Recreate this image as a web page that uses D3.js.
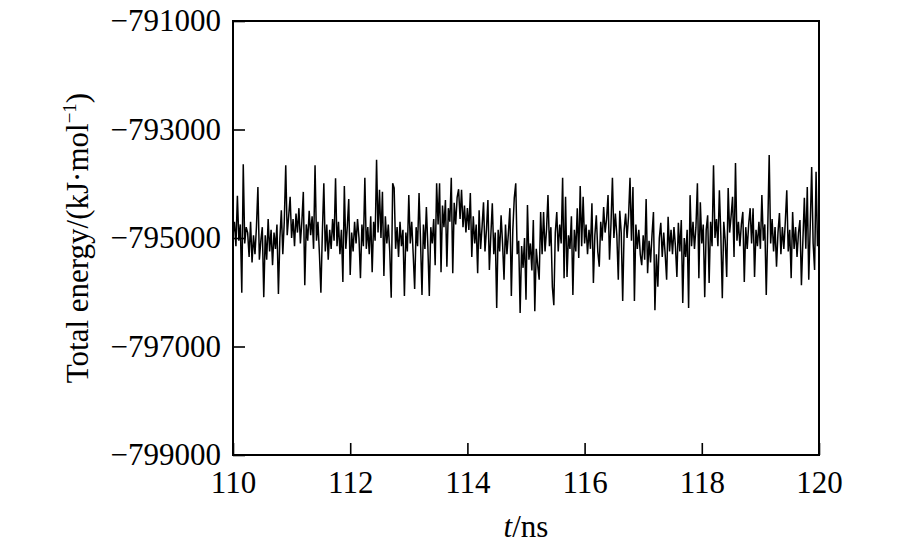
<!DOCTYPE html>
<html>
<head>
<meta charset="utf-8">
<script src="https://cdn.jsdelivr.net/npm/d3@7"></script>
<style>
  html, body { margin: 0; padding: 0; background: #fff; }
  svg { display: block; }
  text { font-family: "Liberation Serif", "Times New Roman", serif; fill: #000; }
</style>
</head>
<body>
<svg id="chart" width="900" height="555"></svg>
<script>
// ---- data ----
const tStart = 110;
const tStep = 0.025; // ns between samples
const energy = [
-794950,-794700,-795150,-794220,-795050,-794750,-796010,-793640,-795100,-794800,
-794900,-795350,-794700,-795450,-794950,-795300,-794800,-794060,-795400,-795050,
-794800,-796090,-794950,-795400,-794650,-795250,-794850,-795500,-794900,-795200,
-794750,-796030,-795000,-794490,-795300,-794700,-793660,-794950,-794600,-794240,
-795000,-794650,-795150,-794550,-794900,-794450,-795100,-794700,-794150,-795870,
-794750,-795050,-794500,-794950,-794600,-795200,-793660,-795050,-794700,-795300,
-796010,-794900,-793990,-795250,-794750,-795400,-794850,-795200,-794650,-795050,
-793900,-795150,-794700,-795300,-794850,-795810,-794040,-795200,-794800,-794280,
-795680,-794900,-795250,-794700,-795100,-794650,-795000,-795740,-794750,-795150,
-793890,-795200,-794800,-795300,-794600,-795630,-794700,-795050,-793560,-794900,
-794110,-795000,-794150,-795700,-794600,-795100,-794750,-795250,-796100,-793990,
-794080,-795200,-794800,-795350,-794700,-795150,-794850,-796070,-794900,-795250,
-794210,-795100,-794700,-795300,-795940,-794800,-795150,-794170,-795050,-796050,
-794750,-795200,-794430,-795150,-796070,-794800,-795100,-794650,-795500,-793990,
-794750,-793990,-795630,-794400,-794800,-794300,-795530,-794450,-794700,-793890,
-795650,-794350,-794750,-794250,-794100,-794650,-794110,-794800,-794400,-794900,
-794450,-794850,-794170,-795350,-794600,-795100,-794750,-795650,-794490,-795200,
-794800,-794340,-795250,-794850,-794300,-795590,-794950,-794360,-795300,-794900,
-796290,-794850,-795250,-794580,-795100,-795770,-794750,-795300,-794900,-794450,
-796070,-794850,-794260,-793990,-795300,-795050,-796380,-795150,-795550,-795000,
-796140,-794390,-795400,-795100,-795600,-794670,-796350,-795200,-795500,-795770,
-794520,-795300,-794520,-795250,-794850,-794210,-795150,-794800,-795900,-796240,
-794900,-794520,-795250,-794750,-795100,-793890,-795740,-794240,-795720,-794950,
-795200,-794600,-796050,-794850,-795250,-794450,-795370,-794040,-795150,-794240,
-795100,-794750,-795300,-794850,-795200,-794360,-795830,-794950,-794580,-795250,
-795530,-794700,-795050,-794430,-794900,-794650,-794210,-795400,-794750,-793890,
-795000,-794550,-794950,-795770,-794500,-794900,-796160,-794850,-794550,-795000,
-794600,-793890,-795050,-794060,-796160,-794750,-795200,-794850,-795300,-795500,
-794950,-795400,-794280,-795650,-795050,-795450,-794950,-794520,-796330,-795300,
-795900,-795000,-794720,-795350,-794900,-795300,-795770,-794610,-795250,-794850,
-795300,-794800,-795150,-795720,-794720,-795250,-794670,-796200,-795000,-795350,
-794850,-796290,-794210,-795150,-794700,-795200,-794800,-793990,-795740,-794340,
-795100,-794750,-796090,-794850,-794580,-795830,-794700,-795150,-793660,-795000,
-794650,-795150,-794120,-794950,-796110,-794700,-795050,-795720,-794080,-794900,
-794600,-794240,-795350,-793620,-795050,-794700,-795150,-794750,-794520,-795810,
-794800,-795200,-794750,-794450,-795100,-794450,-795720,-794850,-795150,-794700,
-795200,-794210,-795050,-794750,-796050,-794850,-793470,-795100,-794650,-795250,
-794800,-795530,-794900,-794540,-795300,-794800,-795200,-794700,-794120,-795250,
-794850,-795740,-794520,-795200,-794800,-795350,-794900,-794670,-795870,-795050,
-794260,-795200,-794060,-795770,-794800,-793690,-795100,-795590,-793780,-795150,
-794800
];
const xTicks = [110, 112, 114, 116, 118, 120];
const yTicks = [-799000, -797000, -795000, -793000, -791000];
const xDomain = [110, 120];
const yDomain = [-799000, -791000];

// ---- layout ----
const svg = d3.select("#chart");
const L = 233, R = 819, T = 21, B = 455;
const fontSize = 31;

svg.append("rect").attr("width", 900).attr("height", 555).attr("fill", "#fff");

const x = d3.scaleLinear().domain(xDomain).range([L, R]);
const y = d3.scaleLinear().domain(yDomain).range([B, T]);

const points = energy.map((v, i) => ({ t: tStart + i * tStep, v }));

const line = d3.line().x(d => x(d.t)).y(d => y(d.v));

svg.append("path")
  .datum(points)
  .attr("fill", "none")
  .attr("stroke", "#000")
  .attr("stroke-width", 1.5)
  .attr("stroke-linejoin", "bevel")
  .attr("d", line);

// axes
const xAxis = d3.axisBottom(x).tickValues(xTicks).tickFormat(d3.format("d"))
  .tickSizeInner(-12).tickSizeOuter(0).tickPadding(16);
const gx = svg.append("g").attr("transform", `translate(0,${B})`).call(xAxis);
gx.select(".domain").remove();
gx.selectAll(".tick line").attr("stroke", "#000").attr("stroke-width", 1.6);
gx.selectAll(".tick text").attr("font-size", fontSize)
  .attr("font-family", "Liberation Serif, Times New Roman, serif");

const yAxis = d3.axisLeft(y).tickValues(yTicks).tickFormat(d3.format("d"))
  .tickSizeInner(-12).tickSizeOuter(0).tickPadding(12);
const gy = svg.append("g").attr("transform", `translate(${L},0)`).call(yAxis);
gy.select(".domain").remove();
gy.selectAll(".tick line").attr("stroke", "#000").attr("stroke-width", 1.6);
gy.selectAll(".tick text").attr("font-size", fontSize)
  .attr("font-family", "Liberation Serif, Times New Roman, serif");

// frame
svg.append("rect")
  .attr("x", L).attr("y", T).attr("width", R - L).attr("height", B - T)
  .attr("fill", "none").attr("stroke", "#000").attr("stroke-width", 2);

// x title
const xt = svg.append("text")
  .attr("x", (L + R) / 2).attr("y", 537)
  .attr("text-anchor", "middle").attr("font-size", fontSize);
xt.append("tspan").attr("font-style", "italic").text("t");
xt.append("tspan").text("/ns");

// y title
const yt = svg.append("text")
  .attr("transform", `translate(88,${(T + B) / 2}) rotate(-90)`)
  .attr("text-anchor", "middle").attr("font-size", fontSize);
yt.append("tspan").text("Total energy/(kJ·mol");
yt.append("tspan").attr("font-size", 19).attr("dy", -12).text("−1");
yt.append("tspan").attr("dy", 12).text(")");
</script>
</body>
</html>
